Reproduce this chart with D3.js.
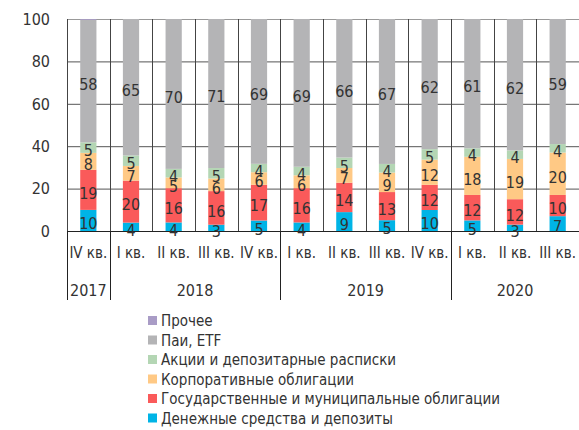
<!DOCTYPE html>
<html><head><meta charset="utf-8">
<script src="https://cdn.jsdelivr.net/npm/d3@7"></script>
<style>
body{margin:0;background:#fff;}
svg text{font-family:"Liberation Sans Narrow","DejaVu Sans Condensed",sans-serif;fill:#333;}
</style></head><body>
<svg id="c" width="579" height="430"></svg>
<script>
const quarters = ["IV кв.","I кв.","II кв.","III кв.","IV кв.","I кв.","II кв.","III кв.","IV кв.","I кв.","II кв.","III кв."];
const years = ["2017","2018","2018","2018","2018","2019","2019","2019","2019","2020","2020","2020"];
const cash   = [10,4,4,3,5,4,9,5,10,5,3,7];
const gov    = [19,20,16,16,17,16,14,13,12,12,12,10];
const corp   = [8,7,5,6,6,6,7,9,12,18,19,20];
const equity = [5,5,4,5,4,4,5,4,5,4,4,4];
const etf    = [58,65,70,71,69,69,66,67,62,61,62,59];
const other  = [0.4,0,0,0,0,0,0,0,0,0,0,0];
const yTicks = [0,20,40,60,80,100];
const seriesNames = ["Денежные средства и депозиты","Государственные и муниципальные облигации","Корпоративные облигации","Акции и депозитарные расписки","Паи, ETF","Прочее"];
const seriesKeys = ["cash","gov","corp","equity","etf","other"];
const colors = ["#00b4e6","#fa5a5a","#ffc985","#b4d6b4","#b4b4b6","#a99cc6"];

const rows = quarters.map((q,i)=>({id:i, q, y:years[i], cash:cash[i], gov:gov[i], corp:corp[i], equity:equity[i], etf:etf[i], other:other[i]}));

const svg = d3.select("#c");
const L=67, R=579, T=19, B=231;
const x = d3.scaleBand().domain(rows.map(d=>d.id)).range([L,R]).paddingInner(0.62).paddingOuter(0.31);
const y = d3.scaleLinear().domain([0,1]).range([B,T]);
const yAx = d3.scaleLinear().domain([0,100]).range([B,T]);
const step = x.step();

const stack = d3.stack().keys(seriesKeys).offset(d3.stackOffsetExpand)(rows);

// horizontal gridlines
svg.append("g").selectAll("line").data(yTicks).join("line")
  .attr("x1",L).attr("x2",R).attr("y1",d=>yAx(d)+0.5).attr("y2",d=>yAx(d)+0.5)
  .attr("stroke",d=>d===0?"#222":(d===100?"#999":"#555")).attr("stroke-width",1);
// vertical gridlines
const bounds = d3.range(rows.length).map(i=>L+i*step);
svg.append("g").selectAll("line").data(bounds).join("line")
  .attr("x1",d=>Math.round(d)+0.5).attr("x2",d=>Math.round(d)+0.5)
  .attr("y1",T).attr("y2",B)
  .attr("stroke","#444").attr("stroke-width",1);
// year separators
const yearStarts = rows.filter((d,i)=>i===0||years[i]!==years[i-1]).map(d=>d.id);
svg.append("g").selectAll("line").data(yearStarts).join("line")
  .attr("x1",d=>Math.round(L+d*step)+0.5).attr("x2",d=>Math.round(L+d*step)+0.5)
  .attr("y1",B).attr("y2",300)
  .attr("stroke","#222").attr("stroke-width",1);

// y axis labels
svg.append("g").selectAll("text").data(yTicks).join("text")
  .attr("x",50).attr("y",d=>yAx(d)).attr("dy","0.36em").attr("text-anchor","end")
  .attr("font-size",16).text(d=>d);

// bars
const g = svg.append("g");
stack.forEach((s,si)=>{
  g.append("g").attr("fill",colors[si]).selectAll("rect").data(s).join("rect")
    .attr("x",d=>x(d.data.id)).attr("width",x.bandwidth())
    .attr("y",d=>y(d[1])).attr("height",d=>Math.max(0,y(d[0])-y(d[1])));
});
// labels
stack.forEach((s,si)=>{
  if(seriesKeys[si]==="other") return;
  g.append("g").selectAll("text").data(s).join("text")
    .attr("x",d=>x(d.data.id)+x.bandwidth()/2)
    .attr("y",d=>(y(d[0])+y(d[1]))/2).attr("dy","0.55em")
    .attr("text-anchor","middle").attr("font-size",16)
    .text(d=>d.data[seriesKeys[si]]);
});

// x labels
svg.append("g").selectAll("text").data(rows).join("text")
  .attr("x",d=>x(d.id)+x.bandwidth()/2).attr("y",253).attr("dy","0.36em")
  .attr("text-anchor","middle").attr("font-size",15).text(d=>d.q);
const yearGroups = d3.groups(rows, d=>d.y);
svg.append("g").selectAll("text").data(yearGroups).join("text")
  .attr("x",d=>{const a=d[1][0].id,b=d[1][d[1].length-1].id;return (L+a*step+L+(b+1)*step)/2;})
  .attr("y",290).attr("dy","0.36em").attr("text-anchor","middle").attr("font-size",16)
  .text(d=>d[0]);

// legend
const legOrder = [5,4,3,2,1,0];
const lg = svg.append("g").selectAll("g").data(legOrder).join("g")
  .attr("transform",(d,i)=>`translate(148,${321+i*19.5})`);
lg.append("rect").attr("x",0).attr("y",-5).attr("width",9).attr("height",9).attr("fill",d=>colors[d]);
lg.append("text").attr("x",13).attr("y",0).attr("dy","0.36em").attr("font-size",15).text(d=>seriesNames[d]);
</script></body></html>
